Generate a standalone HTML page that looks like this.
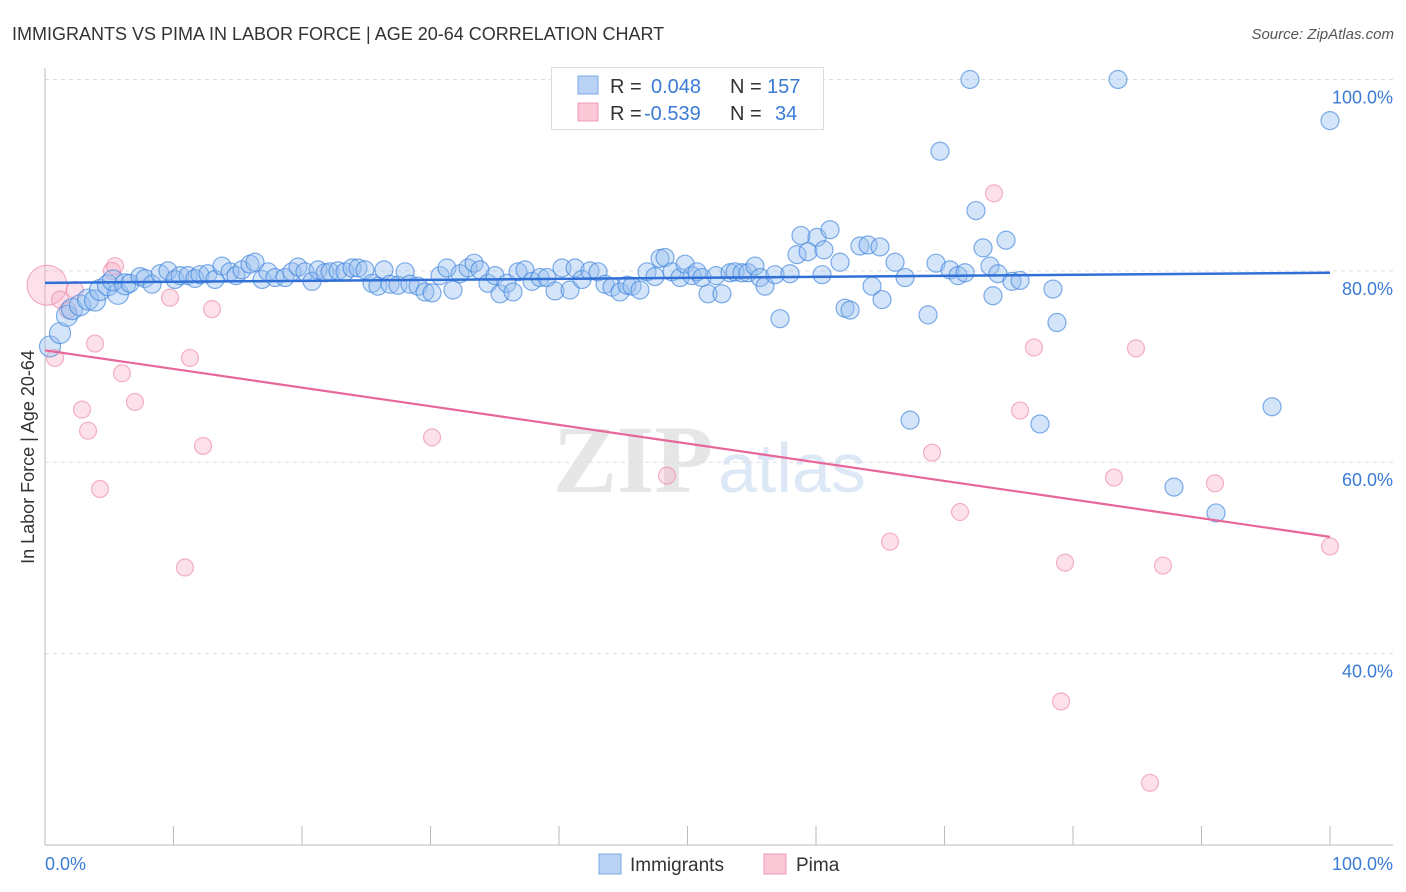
<!DOCTYPE html>
<html><head><meta charset="utf-8"><style>
body{margin:0;background:#fff;font-family:"Liberation Sans",sans-serif;}
svg{display:block}
</style></head><body>
<svg id="chart" width="1406" height="892">
<text x="12" y="40" font-size="18" fill="#333">IMMIGRANTS VS PIMA IN LABOR FORCE | AGE 20-64 CORRELATION CHART</text>
<text x="1394" y="39" font-size="15" fill="#555" font-style="italic" text-anchor="end">Source: ZipAtlas.com</text>
<g>
<text x="553" y="492" font-size="96" font-family="Liberation Serif,serif" fill="#e6e6e6" font-weight="bold">ZIP</text>
<text x="718" y="492" font-size="70" fill="#dce8f6">atlas</text>
</g>
<g id="grid"></g>
<g id="axes"></g>
<g id="pts"></g>
<g id="trends"></g>
<g>
<rect x="551.5" y="67.5" width="272" height="62" fill="#fff" stroke="#ddd"/>
<rect x="578" y="76" width="20" height="18" fill="#b9d3f5" stroke="#7aa7e6"/>
<rect x="578" y="103" width="20" height="18" fill="#f9c8d7" stroke="#f09ab5"/>
<text y="93" font-size="20"><tspan x="610" fill="#333">R =</tspan><tspan x="651" fill="#3a7bd5">0.048</tspan><tspan x="730" fill="#333">N =</tspan><tspan x="767" fill="#3a7bd5">157</tspan></text>
<text y="120" font-size="20"><tspan x="610" fill="#333">R =</tspan><tspan x="644" fill="#3a7bd5">-0.539</tspan><tspan x="730" fill="#333">N =</tspan><tspan x="775" fill="#3a7bd5">34</tspan></text>
</g>
<g>
<rect x="599" y="854" width="22" height="20" fill="#b9d3f5" stroke="#7aa7e6"/>
<text x="630" y="871" font-size="19" fill="#333">Immigrants</text>
<rect x="764" y="854" width="22" height="20" fill="#f9c8d7" stroke="#f09ab5"/>
<text x="796" y="871" font-size="19" fill="#333">Pima</text>
</g>
<text transform="translate(34,457) rotate(-90)" font-size="18" fill="#333" text-anchor="middle">In Labor Force | Age 20-64</text>
</svg>
<script>
const xDomain=[0,100];
const yDomain=[20,101.2];
const yTicks=[40,60,80,100];
const yTickLabels=["40.0%","60.0%","80.0%","100.0%"];
const xTicks=[0,10,20,30,40,50,60,70,80,90,100];
const xEndLabels=["0.0%","100.0%"];
const immX=[0.39,1.17,1.71,2.10,2.72,3.35,3.89,4.28,4.90,5.68,5.29,6.23,6.61,7.39,7.78,8.33,8.95,9.57,10.12,10.51,11.13,11.67,12.06,12.68,13.23,13.77,14.40,14.86,15.33,15.95,16.34,16.89,17.35,17.90,18.68,19.22,19.69,20.23,20.78,21.25,21.79,22.18,22.80,23.35,23.89,24.36,24.90,25.45,25.91,26.38,26.85,27.47,28.02,28.40,29.03,29.57,30.12,30.74,31.28,31.75,32.30,32.92,33.39,33.85,34.47,35.02,35.41,35.95,36.42,36.81,37.35,37.90,38.52,39.07,39.69,40.23,40.86,41.25,41.79,42.41,43.04,43.58,44.12,44.75,45.29,45.68,46.30,46.85,47.47,47.86,48.25,48.79,49.42,49.81,50.35,50.74,51.13,51.60,52.22,52.68,53.31,53.70,54.24,54.71,55.25,55.64,56.03,56.81,57.20,57.98,58.52,58.83,59.38,60.08,60.47,60.62,61.09,61.87,62.26,62.65,63.42,64.05,64.36,64.98,65.14,66.15,66.93,67.32,68.72,69.34,69.65,70.43,71.05,71.60,71.98,72.45,73.00,73.54,73.77,74.16,74.79,75.25,75.88,77.43,78.44,78.75,83.50,87.86,91.13,95.49,100.0];
const immY=[72.1,73.5,75.3,76.0,76.4,77.0,76.9,78.0,78.5,77.6,79.0,78.6,78.7,79.4,79.2,78.6,79.7,80.0,79.1,79.5,79.5,79.2,79.6,79.7,79.1,80.5,79.9,79.5,80.1,80.7,80.9,79.1,79.9,79.3,79.3,79.9,80.4,79.9,78.9,80.1,79.8,79.9,80.0,79.9,80.3,80.3,80.1,78.7,78.4,80.1,78.6,78.5,79.9,78.6,78.4,77.8,77.7,79.5,80.3,78.0,79.7,80.3,80.8,80.1,78.7,79.5,77.6,78.7,77.8,79.9,80.1,78.9,79.3,79.3,77.9,80.3,78.0,80.3,79.1,80.0,79.9,78.6,78.3,77.8,78.5,78.4,78.0,79.9,79.4,81.3,81.4,79.9,79.3,80.7,79.5,79.9,79.3,77.6,79.5,77.6,79.8,79.9,79.8,79.8,80.5,79.3,78.4,79.6,75.0,79.7,81.7,83.7,82.0,83.5,79.6,82.2,84.3,80.9,76.1,75.9,82.6,82.7,78.4,82.5,77.0,80.9,79.3,64.4,75.4,80.8,92.5,80.1,79.5,79.8,100.0,86.3,82.4,80.5,77.4,79.7,83.2,78.9,79.0,64.0,78.1,74.6,100.0,57.4,54.7,65.8,95.7];
const pimaX=[0.16,0.78,1.17,1.79,2.33,2.88,3.35,3.89,4.28,5.21,5.45,5.99,7.00,9.73,10.89,11.28,12.30,13.00,30.12,48.40,65.76,69.03,71.21,73.85,75.88,76.96,79.07,79.38,83.19,84.90,85.99,87.00,91.05,100];
const pimaY=[78.5,70.9,77.0,75.9,78.0,65.5,63.3,72.4,57.2,80.0,80.5,69.3,66.3,77.2,49.0,70.9,61.7,76.0,62.6,58.6,51.7,61.0,54.8,88.1,65.4,72.0,35.0,49.5,58.4,71.9,26.5,49.2,57.8,51.2];
const trendImm=[78.75,79.8];
const trendPima=[71.7,52.2];

const L=45,R=1330,T=68,B=845;
const sx=v=>L+(v-xDomain[0])/(xDomain[1]-xDomain[0])*(R-L);
const sy=v=>B-(v-yDomain[0])/(yDomain[1]-yDomain[0])*(B-T);
const NS="http://www.w3.org/2000/svg";
function mk(tag,attrs,parent){const e=document.createElementNS(NS,tag);for(const k in attrs)e.setAttribute(k,attrs[k]);parent.appendChild(e);return e;}
const grid=document.getElementById('grid'),axes=document.getElementById('axes'),pts=document.getElementById('pts'),tr=document.getElementById('trends');
yTicks.forEach((t,i)=>{
  const g=mk('line',{x1:L,x2:1393,y1:sy(t),y2:sy(t),stroke:'#ddd','stroke-dasharray':'4,4'},grid);
  
  
  const tx=mk('text',{x:1393,y:sy(t)+24,'font-size':18,fill:'#3a7bd5','text-anchor':'end'},axes);
  tx.textContent=yTickLabels[i];
  
  
});
const ax=mk('line',{x1:L,x2:1393,y1:B,y2:B,stroke:'#bbb'},axes);


const ay=mk('line',{x1:L,x2:L,y1:T,y2:B,stroke:'#bbb'},axes);


xTicks.forEach(t=>{
  const l=mk('line',{x1:sx(t),x2:sx(t),y1:826,y2:B,stroke:'#bbb'},axes);
  
  
});
const xl0=mk('text',{x:45,y:870,'font-size':18,fill:'#3a7bd5'},axes);xl0.textContent=xEndLabels[0];


const xl1=mk('text',{x:1393,y:870,'font-size':18,fill:'#3a7bd5','text-anchor':'end'},axes);xl1.textContent=xEndLabels[1];


pimaX.forEach((x,i)=>{
  const c=mk('circle',{cx:sx(x),cy:sy(pimaY[i]),r:i===0?20:8.5,fill:'rgba(246,170,195,0.35)',stroke:'rgba(236,130,165,0.6)','stroke-width':1.2},pts);
  
  
});
immX.forEach((x,i)=>{
  const c=mk('circle',{cx:sx(x),cy:sy(immY[i]),r:i<12?10.5:9,fill:'rgba(150,190,240,0.4)',stroke:'rgba(60,130,220,0.65)','stroke-width':1.2},pts);
  
  
});
const t1=mk('line',{x1:sx(0),x2:sx(100),y1:sy(trendImm[0]),y2:sy(trendImm[1]),stroke:'#2f6fd6','stroke-width':2.5},tr);


const t2=mk('line',{x1:sx(0),x2:sx(100),y1:sy(trendPima[0]),y2:sy(trendPima[1]),stroke:'#e8679a','stroke-width':2.2},tr);


</script>
</body></html>
